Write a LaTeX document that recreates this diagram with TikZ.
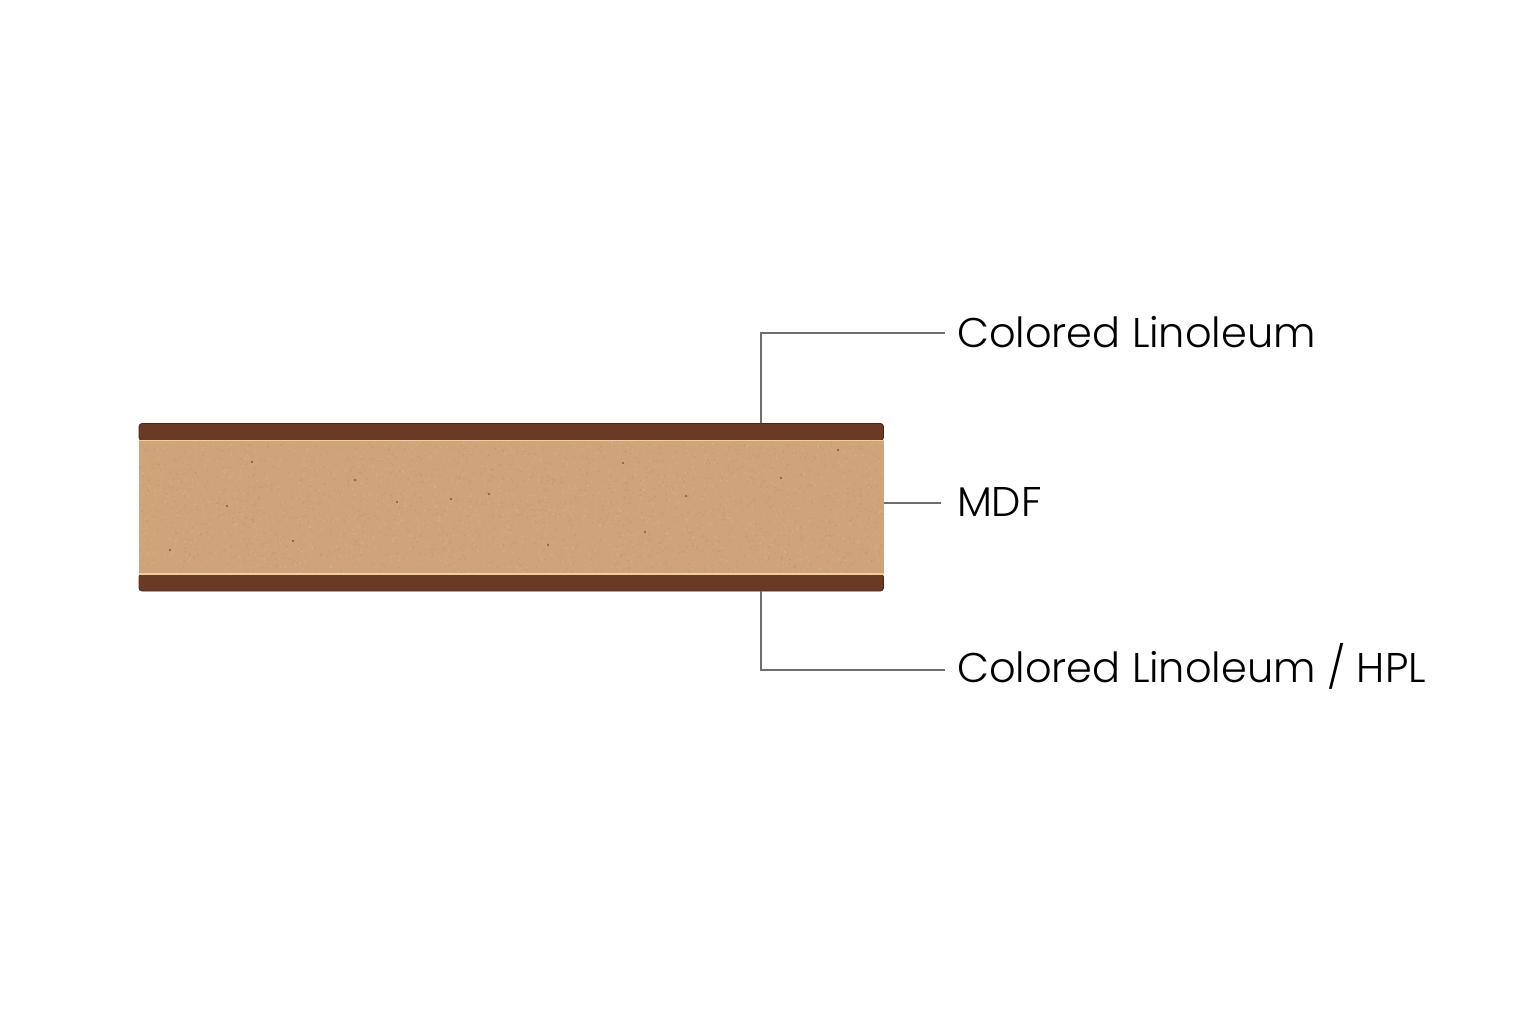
\documentclass[tikz,border=0pt]{standalone}
\usepackage{fontspec}
\setmainfont{Poppins Light}
\usetikzlibrary{calc}
\definecolor{linocol}{HTML}{6A3A25}
\definecolor{linoedge}{HTML}{4E2715}
\definecolor{mdfcol}{HTML}{CFA47A}
\definecolor{gluecol}{HTML}{F0CE9E}
\definecolor{speckcol}{HTML}{8F5228}
\definecolor{leadcol}{HTML}{6E6E6E}
\tikzset{
   layer/.style={minimum width=744.5pt, inner sep=0pt, outer sep=0pt, anchor=north west},
   lino/.style={layer, minimum height=17pt, fill=linocol, draw=linoedge, line width=0.8pt},
   lead/.style={draw=leadcol, line width=1.1pt},
   tag/.style={anchor=west, inner sep=0pt, outer sep=0pt, font=\fontsize{41.5}{41.5}\selectfont, text=black},
    }
\pgfmathsetseed{1536}
\begin{document}
\begin{tikzpicture}[x=1pt,y=-1pt]
    \useasboundingbox (0,0) rectangle (1536,1024);
    % board
    \node[layer, minimum height=134pt, fill=mdfcol] (mdf) at (139,440) {};
    % grain of the fibre
    \foreach \i in {1,...,1500} {
        \pgfmathsetmacro{\gx}{139+744*rnd}
        \pgfmathsetmacro{\gy}{442+130*rnd}
        \fill[speckcol, opacity=0.10] (\gx,\gy) circle (1pt);
        \pgfmathsetmacro{\gx}{139+744*rnd}
        \pgfmathsetmacro{\gy}{442+130*rnd}
        \fill[white, opacity=0.10] (\gx,\gy) circle (1pt);
    }
    \node[lino, rounded corners=3pt] (linotop) at (139,423.5) {};
    \node[lino, rounded corners=3pt] (linobot) at (139,574) {};
    \draw[gluecol, line width=1.4pt] (linotop.south west) -- (linotop.south east);
    \draw[gluecol, line width=1.4pt] (linobot.north west) -- (linobot.north east);
    % specks in the fibre
    \foreach \x/\y in {227/506,293/541,397/502,451/499,489/494,686/496,623/463,838/450,
                       252/462,645/532,355/480,781/478,170/550,548/545} {
        \fill[speckcol] (\x,\y) circle (1.1pt);
    }
    % labels
    \node[tag] (tagtop) at (957,332) {Colored Linoleum};
    \node[tag] (tagmdf) at (957,502) {MDF};
    \node[tag] (tagbot) at (957,666) {Colored Linoleum / HPL};
    % leaders
    \coordinate (topend) at (761,423);
    \coordinate (botend) at (761,591);
    \coordinate (mdfend) at (884,503);
    \draw[lead] (topend) |- ($(tagtop.west)+(-12,1)$);
    \draw[lead] (mdfend) -- ($(tagmdf.west)+(-16,1)$);
    \draw[lead] (botend) |- ($(tagbot.west)+(-12,4)$);
\end{tikzpicture}
\end{document}
